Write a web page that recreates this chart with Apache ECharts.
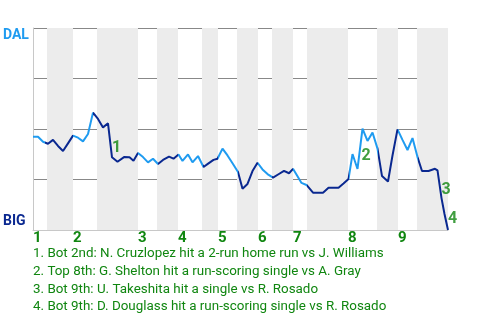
<!DOCTYPE html>
<html><head><meta charset="utf-8">
<script src="https://cdn.jsdelivr.net/npm/echarts@6/dist/echarts.min.js"></script>
<style>html,body{margin:0;padding:0;background:#fff}#c{width:480px;height:320px}</style>
</head><body><div id="c"></div>
<script>
// play index (x) and DAL win probability in % (y)
const playIndex = [0,1,2,3,4,5,6,7,8,9,10,11,12,13,14,15,15.8,16.9,18.2,19.3,20.1,21,22,23,24,25,26,27.2,28.1,29.1,29.9,31,31.9,33,34.1,35.1,36.1,36.9,37.9,38.9,40,41,41.9,42.9,43.9,44.9,45.9,46.9,48,49.1,50.2,51.2,52,52.9,53.7,54.7,56,57,58,59.1,60.1,61.1,62.1,63.1,63.9,64.9,65.9,66.9,67.9,68.9,69.8,71,71.9,72.9,73.9,74.9,75.9,76.9,77.8,79.1,80.4,80.9,81.7,82.3,83];
const winProb = [46.2,46.2,43.7,42.7,44.6,41.6,39.1,42.9,46.7,45.7,43.9,47.5,58.1,55.0,50.8,52.8,36.0,33.8,36.1,36.0,34.3,38.1,36.1,33.5,35.3,32.7,34.7,36.3,35.3,37.4,34.2,37.4,33.5,36.6,31.2,33.0,34.7,35.3,40.3,36.9,32.7,28.7,20.4,22.8,29.2,33.3,30.0,27.7,25.9,27.6,29.3,28.1,30.3,26.6,23.3,22.3,18.5,18.5,18.5,20.9,20.9,20.9,23.0,25.2,37.6,30.2,50.2,44.1,48.3,40.3,26.7,24.0,36.9,49.8,44.6,39.6,45.5,36.1,29.2,29.2,30.3,29.5,15.8,7.9,0];
const inningStarts = [0,8,21,29,37,45,52,63,73];
const inningLabels = ['1','2','3','4','5','6','7','8','9'];
const bottomHalfRanges = [[2.8,8],[12.8,21],[24.8,29],[33.8,37],[40.8,45],[47.8,52],[54.8,63],[68.8,73],[76.8,83]];
const topHalfLineRanges = [[0,2.4],[8,12],[21,25],[29,34],[36.9,41],[44.9,47.8],[52,54.7],[63.1,68.9],[72.9,76.9]];
const eventPoints = [16,66,82,84];
const eventLabels = ['1','2','3','4'];
const eventNotes = [
  '1. Bot 2nd: N. Cruzlopez hit a 2-run home run vs J. Williams',
  '2. Top 8th: G. Shelton hit a run-scoring single vs A. Gray',
  '3. Bot 9th: U. Takeshita hit a single vs R. Rosado',
  '4. Bot 9th: D. Douglass hit a run-scoring single vs R. Rosado'
];
const yLabels = {0:'BIG', 100:'DAL'};

const LIGHT = '#1f9bf0', DARK = '#0a2890', GREEN = '#108610';
const FONT = 'Roboto';
const xMax = 83;

// pieces for line colouring
const pieces = [];
let prev = 0;
topHalfLineRanges.forEach(r => {
  if (r[0] > prev) pieces.push({gte: prev, lt: r[0], color: DARK});
  pieces.push({gte: r[0], lt: r[1], color: LIGHT});
  prev = r[1];
});
if (prev < xMax + 1) pieces.push({gte: prev, lte: xMax + 1, color: DARK});

const labelOffsets = [[0,-17],[-1,19],[0,-16],[0,-19]];

const chart = echarts.init(document.getElementById('c'), null, {renderer: 'canvas'});
chart.setOption({
  animation: false,
  title: {
    text: eventNotes.join('\n'),
    left: 33, top: 245, padding: 0,
    textStyle: {fontFamily: FONT, fontSize: 13.4, fontWeight: 'normal', color: GREEN, lineHeight: 17.7}
  },
  grid: {left: 33, right: 32, top: 28, bottom: 90},
  xAxis: {
    type: 'value', min: 0, max: xMax,
    axisLine: {show: true, lineStyle: {color: '#c8c8c8', width: 1}},
    axisTick: {show: false},
    splitLine: {show: false},
    axisLabel: {
      customValues: inningStarts,
      formatter: v => inningLabels[inningStarts.indexOf(v)] || '',
      align: 'left', margin: 1,
      color: GREEN, fontFamily: FONT, fontWeight: 'bold', fontSize: 15
    }
  },
  yAxis: {
    type: 'value', min: 0, max: 100, interval: 25, z: 1,
    axisLine: {show: true, lineStyle: {color: '#c8c8c8', width: 1}},
    axisTick: {show: false},
    splitLine: {show: true, lineStyle: {color: ['#c8c8c8','#888','#888','#888','#888'], width: 1}},
    axisLabel: {
      align: 'left', margin: 30,
      formatter: v => v === 100 ? '{d|' + yLabels[100] + '}' : (v === 0 ? '{b|' + yLabels[0] + '}' : ''),
      rich: {
        d: {color: LIGHT, fontFamily: FONT, fontWeight: 'bold', fontSize: 14, padding: [14,0,0,0]},
        b: {color: DARK, fontFamily: FONT, fontWeight: 'bold', fontSize: 14, padding: [0,0,18,0]}
      }
    }
  },
  visualMap: {show: false, type: 'piecewise', dimension: 0, seriesIndex: 1, pieces: pieces},
  series: [
    {
      type: 'line', data: [], z: 0, silent: true,
      markArea: {
        silent: true,
        itemStyle: {color: '#ececec'},
        data: bottomHalfRanges.map(r => [{xAxis: r[0]}, {xAxis: r[1]}])
      }
    },
    {
      type: 'line', z: 3,
      data: playIndex.map((x, i) => [x, winProb[i]]),
      showSymbol: false, symbol: 'none',
      lineStyle: {width: 2}
    },
    {
      type: 'scatter', z: 4, symbolSize: 0,
      data: eventPoints.map((p, i) => ({
        value: [playIndex[p], winProb[p]],
        label: {show: true, formatter: eventLabels[i], position: labelOffsets[i],
                color: GREEN, fontFamily: FONT, fontWeight: 'bold', fontSize: 16}
      }))
    }
  ]
});
</script></body></html>
